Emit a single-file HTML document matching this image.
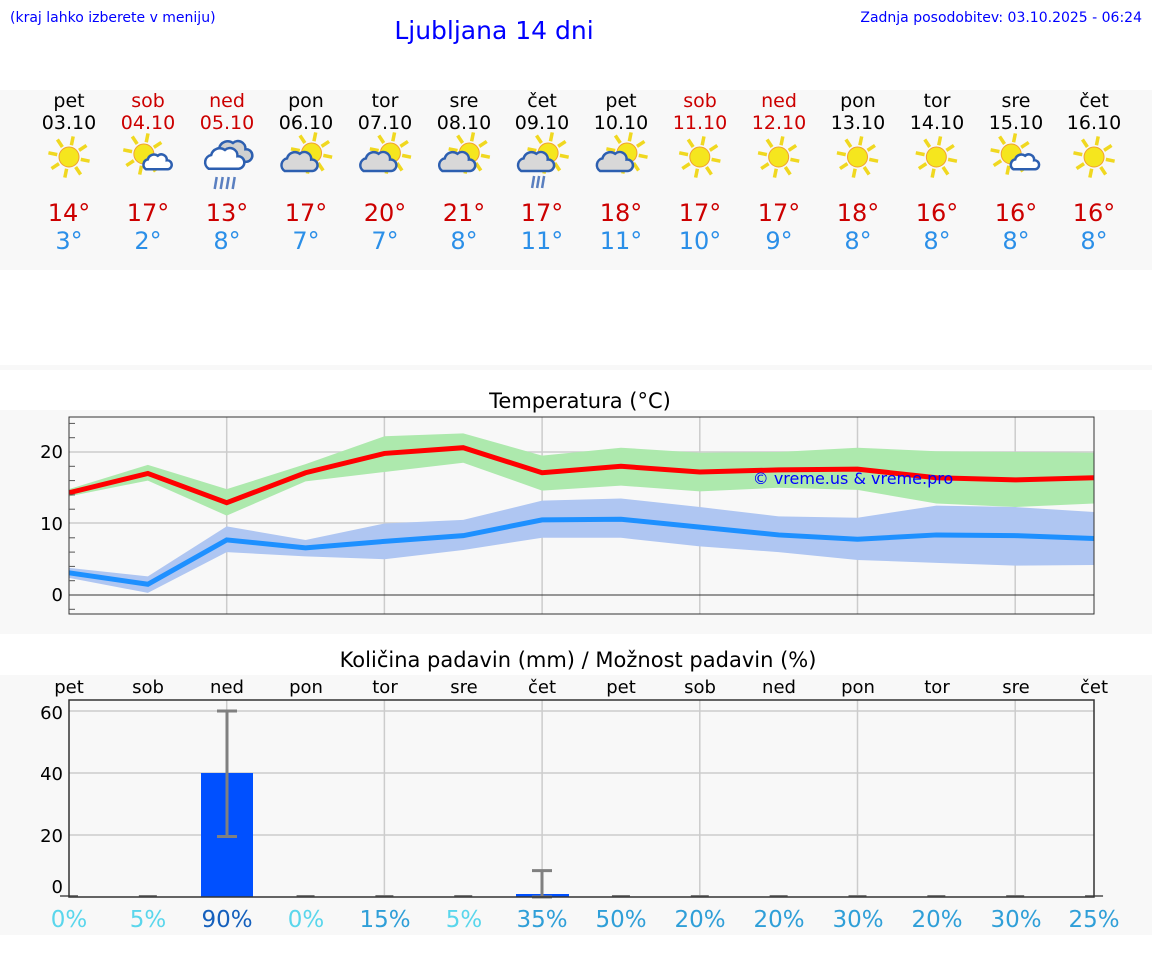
<!DOCTYPE html>
<html><head><meta charset="utf-8"><style>
body{margin:0;background:#fff;width:1152px;height:975px;overflow:hidden;font-family:"DejaVu Sans","Liberation Sans",sans-serif}
svg text{font-family:"DejaVu Sans","Liberation Sans",sans-serif}
</style></head><body>
<svg id="s" width="1152" height="975" xmlns="http://www.w3.org/2000/svg">
<rect x="0" y="90" width="1152" height="180" fill="#f8f8f8"/>
<rect x="0" y="365" width="1152" height="5" fill="#f8f8f8"/>
<rect x="0" y="410" width="1152" height="224" fill="#f8f8f8"/>
<rect x="0" y="675" width="1152" height="260" fill="#f8f8f8"/>
<text x="10" y="22" font-size="14" fill="#0000ff" font-family="Liberation Sans">(kraj lahko izberete v meniju)</text>
<text x="494" y="39" font-size="25" fill="#0000ff" text-anchor="middle" font-family="Liberation Sans">Ljubljana 14 dni</text>
<text x="1142" y="22" font-size="14" fill="#0000ff" text-anchor="end" font-family="Liberation Sans">Zadnja posodobitev: 03.10.2025 - 06:24</text>
<g font-size="19" text-anchor="middle">
<text x="69" y="107">pet</text><text x="148" y="107" fill="#cc0000">sob</text><text x="227" y="107" fill="#cc0000">ned</text><text x="306" y="107">pon</text><text x="385" y="107">tor</text><text x="464" y="107">sre</text><text x="542" y="107">čet</text><text x="621" y="107">pet</text><text x="700" y="107" fill="#cc0000">sob</text><text x="779" y="107" fill="#cc0000">ned</text><text x="858" y="107">pon</text><text x="937" y="107">tor</text><text x="1016" y="107">sre</text><text x="1094" y="107">čet</text>
<text x="69" y="129">03.10</text><text x="148" y="129" fill="#cc0000">04.10</text><text x="227" y="129" fill="#cc0000">05.10</text><text x="306" y="129">06.10</text><text x="385" y="129">07.10</text><text x="464" y="129">08.10</text><text x="542" y="129">09.10</text><text x="621" y="129">10.10</text><text x="700" y="129" fill="#cc0000">11.10</text><text x="779" y="129" fill="#cc0000">12.10</text><text x="858" y="129">13.10</text><text x="937" y="129">14.10</text><text x="1016" y="129">15.10</text><text x="1094" y="129">16.10</text>
</g>
<g font-size="24" text-anchor="middle" fill="#cc0000">
<text x="69" y="221">14°</text><text x="148" y="221">17°</text><text x="227" y="221">13°</text><text x="306" y="221">17°</text><text x="385" y="221">20°</text><text x="464" y="221">21°</text><text x="542" y="221">17°</text><text x="621" y="221">18°</text><text x="700" y="221">17°</text><text x="779" y="221">17°</text><text x="858" y="221">18°</text><text x="937" y="221">16°</text><text x="1016" y="221">16°</text><text x="1094" y="221">16°</text>
</g>
<g font-size="24" text-anchor="middle" fill="#2b8fe8">
<text x="69" y="249">3°</text><text x="148" y="249">2°</text><text x="227" y="249">8°</text><text x="306" y="249">7°</text><text x="385" y="249">7°</text><text x="464" y="249">8°</text><text x="542" y="249">11°</text><text x="621" y="249">11°</text><text x="700" y="249">10°</text><text x="779" y="249">9°</text><text x="858" y="249">8°</text><text x="937" y="249">8°</text><text x="1016" y="249">8°</text><text x="1094" y="249">8°</text>
</g>
<g id="icons"></g>
<text x="580" y="408" font-size="21" text-anchor="middle">Temperatura (°C)</text>
<g id="temp"></g>
<text x="578" y="667" font-size="21" text-anchor="middle">Količina padavin (mm) / Možnost padavin (%)</text>
<g font-size="18" text-anchor="middle">
<text x="69" y="693">pet</text><text x="148" y="693">sob</text><text x="227" y="693">ned</text><text x="306" y="693">pon</text><text x="385" y="693">tor</text><text x="464" y="693">sre</text><text x="542" y="693">čet</text><text x="621" y="693">pet</text><text x="700" y="693">sob</text><text x="779" y="693">ned</text><text x="858" y="693">pon</text><text x="937" y="693">tor</text><text x="1016" y="693">sre</text><text x="1094" y="693">čet</text>
</g>
<g id="prec"></g>
<g font-size="23" text-anchor="middle" fill="#2f9fd8">
<text x="69" y="927" fill="#5ad6ec">0%</text><text x="148" y="927" fill="#5ad6ec">5%</text><text x="227" y="927" fill="#1560bd">90%</text><text x="306" y="927" fill="#5ad6ec">0%</text><text x="385" y="927">15%</text><text x="464" y="927" fill="#5ad6ec">5%</text><text x="542" y="927">35%</text><text x="621" y="927">50%</text><text x="700" y="927">20%</text><text x="779" y="927">20%</text><text x="858" y="927">30%</text><text x="937" y="927">20%</text><text x="1016" y="927">30%</text><text x="1094" y="927">25%</text>
</g>
<g font-size="18" text-anchor="end">
<text x="63" y="458">20</text><text x="63" y="530">10</text><text x="63" y="601">0</text>
<text x="63" y="719">60</text><text x="63" y="780">40</text><text x="63" y="842">20</text><text x="63" y="893">0</text>
</g>
<text x="853" y="484" font-size="16" fill="#0000ff" text-anchor="middle">© vreme.us &amp; vreme.pro</text>
</svg>
<script>
var N='http://www.w3.org/2000/svg';
function el(p,t,a){var e=document.createElementNS(N,t);for(var k in a)e.setAttribute(k,a[k]);p.appendChild(e);return e;}
var X=[];for(var i=0;i<14;i++)X.push(69+i*78.85);
var T=document.getElementById('temp');
function y(v){return 595-7.15*v;}
el(T,'rect',{x:69,y:417,width:1025,height:197,fill:'#f8f8f8'});
[452,523].forEach(function(g){el(T,'line',{x1:69,x2:1094,y1:g,y2:g,stroke:'#ccc','stroke-width':1.5});});
for(var i=2;i<14;i+=2)el(T,'line',{x1:X[i],x2:X[i],y1:417,y2:614,stroke:'#ccc','stroke-width':1.5});
el(T,'line',{x1:69,x2:1094,y1:595,y2:595,stroke:'#333','stroke-width':1});
function band(u,l,c){var p=[];for(var i=0;i<14;i++)p.push(X[i]+','+y(u[i]));for(var i=13;i>=0;i--)p.push(X[i]+','+y(l[i]));el(T,'polygon',{points:p.join(' '),fill:c});}
function line(v,c){el(T,'polyline',{points:v.map(function(a,i){return X[i]+','+y(a)}).join(' '),fill:'none',stroke:c,'stroke-width':5});}
band([14.8,18.2,14.8,18.3,22.2,22.6,19.5,20.6,19.9,20,20.6,20.1,20,19.9],[13.8,16,11.1,15.9,17.2,18.5,14.6,15.3,14.5,15,14.7,12.8,12.3,12.8],'#ade9ad');
band([3.8,2.6,9.6,7.7,10,10.5,13.2,13.5,12.3,11,10.8,12.5,12.3,11.6],[2.4,0.3,6,5.4,5,6.3,8,8,6.8,6,4.9,4.5,4.1,4.2],'#afc6f2');
line([14.3,17,12.9,17.1,19.8,20.6,17.1,18,17.2,17.5,17.6,16.4,16.1,16.4],'#ff0000');
line([3.1,1.5,7.7,6.6,7.5,8.3,10.5,10.6,9.5,8.4,7.8,8.4,8.3,7.9],'#1e90ff');
el(T,'rect',{x:69,y:417,width:1025,height:197,fill:'none',stroke:'#333','stroke-width':1});
for(var v=-2;v<=24;v+=2){if(v%10)el(T,'line',{x1:69,x2:75,y1:y(v),y2:y(v),stroke:'#555'});}
var P=document.getElementById('prec');
function yp(v){return 897-3.1*v;}
el(P,'rect',{x:69,y:700,width:1025,height:197,fill:'#f8f8f8'});
[60,40,20].forEach(function(g){el(P,'line',{x1:69,x2:1094,y1:yp(g),y2:yp(g),stroke:'#ccc','stroke-width':1.5});});
for(var i=2;i<14;i+=2)el(P,'line',{x1:X[i],x2:X[i],y1:700,y2:897,stroke:'#ccc','stroke-width':1.5});
el(P,'rect',{x:201,y:yp(40),width:52,height:897-yp(40),fill:'#0050ff'});
el(P,'rect',{x:516,y:894,width:53,height:3,fill:'#0050ff'});
function eb(x,a,b){el(P,'line',{x1:x,x2:x,y1:yp(a),y2:yp(b),stroke:'#808080','stroke-width':3});el(P,'line',{x1:x-10,x2:x+10,y1:yp(a),y2:yp(a),stroke:'#808080','stroke-width':3});el(P,'line',{x1:x-10,x2:x+10,y1:yp(b),y2:yp(b),stroke:'#808080','stroke-width':3});}
eb(227,60,19.5);eb(542,8.5,0);
for(var i=0;i<14;i++)if(i!=2&&i!=6)el(P,'line',{x1:X[i]-9,x2:X[i]+9,y1:896,y2:896,stroke:'#777','stroke-width':2});
el(P,'rect',{x:69,y:700,width:1025,height:197,fill:'none',stroke:'#333','stroke-width':1.5});
var I=document.getElementById('icons');
function sun(cx,cy,r){var g=el(I,'g',{});for(var k=0;k<8;k++){var a=k*Math.PI/4+0.2;el(g,'line',{x1:cx+Math.cos(a)*(r+2),y1:cy+Math.sin(a)*(r+2),x2:cx+Math.cos(a)*(r+11),y2:cy+Math.sin(a)*(r+11),stroke:'#f0d820','stroke-width':3.5});}el(g,'circle',{cx:cx,cy:cy,r:r,fill:'#f5e61e',stroke:'#f0a030','stroke-width':1});}
function cloud(cx,cy,s,f){var g=el(I,'g',{fill:f,stroke:'#2d5fb0','stroke-width':2.5});el(g,'path',{d:'M'+(cx-12*s)+','+(cy+7*s)+' a6,6 0 0,1 2,-11 a7,7 0 0,1 11,-4 a6,6 0 0,1 10,5 a5,5 0 0,1 1,10 z'.replace(/a(\d+),(\d+) 0 0,1 (-?\d+),(-?\d+)/g,function(m,a,b,c,d){return 'a'+a*s+','+b*s+' 0 0,1 '+c*s+','+d*s;})});}
var typ=['s','sc','r','cs','cs','cs','cr','cs','s','s','s','s','sc','s'];
for(var i=0;i<14;i++){var cx=X[i],cy=157,t=typ[i];
if(t=='s')sun(cx,cy,10);
else if(t=='sc'){sun(cx-4,cy-3,10);cloud(cx+9,cy+6,0.9,'#fff');}
else if(t=='cs'||t=='cr'){sun(cx+6,cy-4,10);cloud(cx-7,cy+6,1.15,'#d8d8d8');if(t=='cr')for(var k=0;k<3;k++)el(I,'line',{x1:cx-8+k*5,x2:cx-10+k*5,y1:cy+19,y2:cy+31,stroke:'#5a7fc0','stroke-width':2.5});}
else {cloud(cx+5,cy-4,1.25,'#d0d0d0');cloud(cx-3,cy+3,1.25,'#fff');for(var k=0;k<4;k++)el(I,'line',{x1:cx-10+k*6,x2:cx-12+k*6,y1:cy+20,y2:cy+32,stroke:'#5a7fc0','stroke-width':2.5});}}
</script>
</body></html>
